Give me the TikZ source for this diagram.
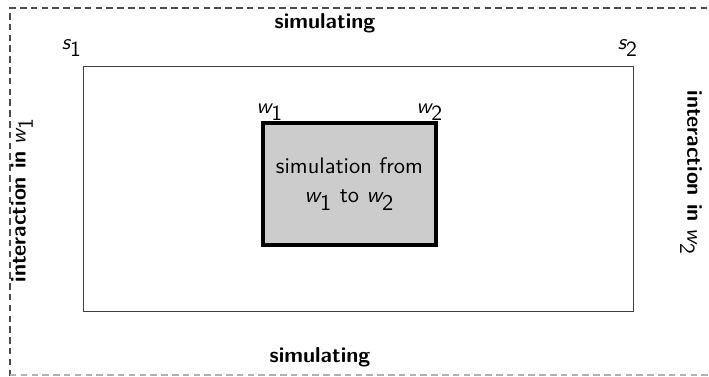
\documentclass[tikz,border=0pt]{standalone}
\renewcommand{\familydefault}{\sfdefault}
\newcommand{\wv}[1]{{\itshape w}$_{\textsf{#1}}$}
\newcommand{\sv}[1]{{\itshape s}$_{\textsf{#1}}$}
\begin{document}
\begin{tikzpicture}[x=0.4629pt,y=-0.4629pt,
  frameline/.style={dashed,draw=black!70,line width=0.5pt,dash pattern=on 3pt off 2pt},
  lbl/.style={inner sep=0pt,font=\sffamily},
  boldlbl/.style={inner sep=0pt,font=\sffamily\bfseries}]
\useasboundingbox (0,0) rectangle (709,377);
\draw[frameline] (10,376) -- (10,8) -- (709,8);
\draw[frameline,draw=black!30] (10,375) -- (709,375);
\node[draw=black!75,line width=0.45pt,minimum width=550*0.4629pt,minimum height=245*0.4629pt,inner sep=0pt] (outer) at (358,188.5) {};
\node[draw=black,fill=black!20,line width=2pt,minimum width=173*0.4629pt,minimum height=122*0.4629pt,inner sep=0pt,align=center,font=\sffamily\fontsize{10.4}{12.5}\selectfont] (inner) at (349.5,184) {simulation from\\[1pt]\wv{1} to \wv{2}};
\node[boldlbl] (top) at (325,23) {simulating};
\node[boldlbl] (bot) at (320,357) {simulating};
\node[lbl] (s1) at (72,48) {\sv{1}};
\node[lbl] (s2) at (628,48) {\sv{2}};
\node[lbl] (w1) at (270,112) {\wv{1}};
\node[lbl] (w2) at (430,112) {\wv{2}};
\node[lbl,rotate=90] (iw1) at (22,200) {\textbf{interaction in} \wv{1}};
\node[lbl,rotate=-90] (iw2) at (691,173) {\textbf{interaction in} \wv{2}};
\end{tikzpicture}
\end{document}
